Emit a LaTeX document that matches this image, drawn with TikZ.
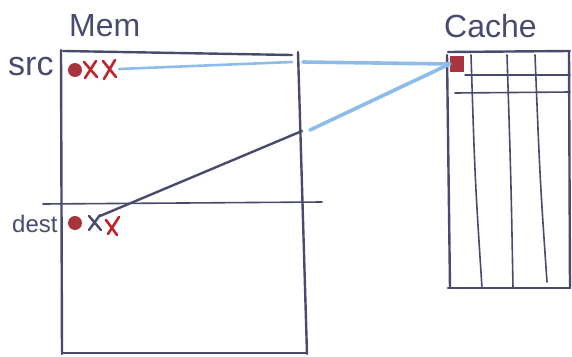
\documentclass[tikz,border=0pt]{standalone}
\usepackage{fontspec}
\setmainfont{Liberation Sans}
\begin{document}
\begin{tikzpicture}[x=1pt,y=-1pt,
  ink/.style={draw=inkc,line width=2.4pt,line cap=round},
  thin ink/.style={draw=inkc,line width=1.6pt,line cap=round},
  blueline/.style={draw=bluec,line width=3.6pt,line cap=round},
  redx/.style={draw=redc,line width=2.6pt,line cap=round},
  reddot/.style={circle,fill=dotc,minimum size=14pt,inner sep=0pt},
  lbl/.style={text=inkc,inner sep=0pt,anchor=base west}]
\definecolor{inkc}{HTML}{4A4A6E}
\definecolor{bluec}{HTML}{8DBBEB}
\definecolor{redc}{HTML}{C0242C}
\definecolor{dotc}{HTML}{A8343F}
\useasboundingbox (0,0) rectangle (572,356);

% ---- Mem ----
\node[lbl,font=\fontsize{32}{32}\selectfont] (memlbl) at (69,36) {Mem};
\draw[ink] (63,51) -- (292,55);
\draw[ink] (61,50) -- (62,354);
\draw[ink] (298,52) -- (307,354);
\draw[ink] (62,353) -- (306,353);
\draw[thin ink] (43,204) -- (322,202);
\node[lbl,font=\fontsize{34}{34}\selectfont] (srclbl) at (8,75) {src};
\node[lbl,font=\fontsize{24}{24}\selectfont] (destlbl) at (12,232) {dest};

% src cells
\node[reddot] (srcdot) at (75,70) {};
\draw[redx] (84,62) -- (97,77) (96,61) -- (85,78);
\draw[redx] (103,61) -- (116,77) (115,60) -- (104,79);
\coordinate (srcend) at (119,69);

% dest cells
\node[reddot] (destdot) at (75,223) {};
\draw[ink] (89,216) -- (101,230) (100,215) -- (89,230);
\draw[redx] (106,220) -- (117,235) (119,217) .. controls (114,226) .. (108,234);
\coordinate (deststart) at (100,216);

% ---- Cache ----
\node[lbl,font=\fontsize{32}{32}\selectfont] (cachelbl) at (444,37) {Cache};
\draw[ink] (448,52) -- (570,51);
\draw[ink] (447,55) -- (450,288);
\draw[ink] (569,52) -- (570,288);
\draw[ink] (448,288) -- (570,288);
\draw[thin ink] (465,75) -- (570,75);
\draw[thin ink] (455,93) -- (570,92);
\draw[thin ink] (471,55) .. controls (475,180) .. (482,288);
\draw[thin ink] (507,55) .. controls (511,180) .. (513,288);
\draw[thin ink] (535,55) .. controls (540,180) .. (547,282);
\node[fill=dotc,minimum width=14pt,minimum height=16pt,inner sep=0pt] (cachecell) at (457,64) {};

% ---- connectors ----
\coordinate (memtopedge) at (292,62);
\coordinate (outtop) at (303,62);
\coordinate (memmid) at (302,131);
\coordinate (outmid) at (310,130);
\draw[bluec,line width=2.6pt,line cap=round] (srcend) -- (memtopedge);
\draw[blueline] (outtop) -- (cachecell.west);
\draw[blueline] (outmid) -- (cachecell.west);
\draw[ink] (deststart) -- (memmid);
\end{tikzpicture}
\end{document}
